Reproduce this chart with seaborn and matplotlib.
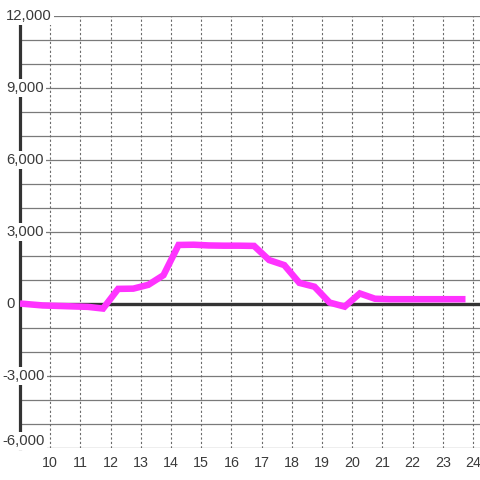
import matplotlib
matplotlib.use("Agg")
import matplotlib.pyplot as plt
import seaborn as sns
import pandas as pd
import matplotlib.transforms as mtransforms

# ---- data ----
hours = [9.0, 9.75, 10.25, 10.75, 11.25, 11.75, 12.25, 12.75, 13.25, 13.75,
         14.25, 14.75, 15.25, 15.75, 16.25, 16.75, 17.25, 17.75, 18.25, 18.75,
         19.25, 19.75, 20.25, 20.75, 21.25, 21.75, 22.25, 22.75, 23.25, 23.75]
values = [20, -60, -80, -100, -120, -190, 630, 640, 800, 1200,
          2460, 2470, 2440, 2430, 2430, 2420, 1830, 1620, 880, 720,
          60, -110, 440, 220, 200, 200, 200, 200, 200, 200]
x_ticks = list(range(10, 25))
y_ticks = [-6000, -3000, 0, 3000, 6000, 9000, 12000]
y_tick_labels = ["-6,000", "-3,000", "0", "3,000", "6,000", "9,000", "12,000"]
y_grid = list(range(-6000, 12001, 1000))

df = pd.DataFrame({"hour": hours, "value": values})

sns.set_style("white")
plt.rcParams["font.family"] = ["Liberation Sans", "DejaVu Sans"]

fig = plt.figure(figsize=(4.8, 4.8), dpi=100)
ax = fig.add_axes([20 / 480, 32 / 480, 460 / 480, 432 / 480])

# grid
for yv in y_grid:
    ax.axhline(yv, color="#7a7a7a", lw=0.9, zorder=0.5)
for xv in x_ticks:
    ax.axvline(xv, color="#6a6a6a", lw=0.8, ls=(0, (2.0, 2.0)), zorder=0.5)

# zero line
ax.axhline(0, color="#333333", lw=2.4, zorder=1.5)

sns.lineplot(data=df, x="hour", y="value", ax=ax, color="#ff33ff",
             lw=4.7, zorder=3, solid_capstyle="butt", solid_joinstyle="miter")

ax.set_xlim(9, 24.23)
ax.set_ylim(-6000, 12000)

for s in ["top", "right", "bottom"]:
    ax.spines[s].set_visible(False)
ax.spines["left"].set_color("#333333")
ax.spines["left"].set_linewidth(2.3)
ax.spines["left"].set_zorder(1.6)

ax.set_xlabel("")
ax.set_ylabel("")
ax.set_xticks(x_ticks)
ax.set_xticklabels([str(t) for t in x_ticks])
ax.set_yticks([])
ax.tick_params(axis="x", length=0, pad=5.5, labelsize=10.3, labelcolor="#3a3a3a")

# y labels: left aligned near the figure edge, white box covering spine
trans = mtransforms.blended_transform_factory(fig.transFigure, ax.transData)
for yv, lab in zip(y_ticks, y_tick_labels):
    xpos = (2.5 if lab.startswith("-") else 6) / 480
    va = "bottom" if yv == y_ticks[0] else "center"
    ax.text(xpos, yv, lab, transform=trans, ha="left", va=va,
            fontsize=10.7, color="#3a3a3a", zorder=5, clip_on=False,
            bbox=dict(facecolor="white", edgecolor="none", pad=1.5))

fig.savefig("out.png", dpi=100)
